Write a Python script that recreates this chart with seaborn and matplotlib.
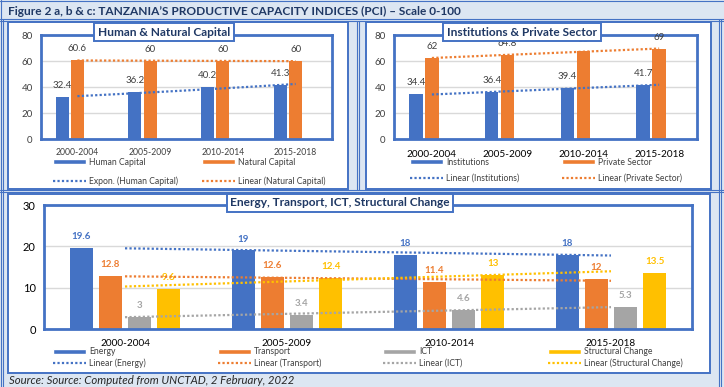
import numpy as np
import pandas as pd
import seaborn as sns
import matplotlib.pyplot as plt
from matplotlib.patches import Rectangle, Patch
from matplotlib.lines import Line2D

# data
periods = ['2000-2004', '2005-2009', '2010-2014', '2015-2018']
human = [32.4, 36.2, 40.2, 41.3]
natural = [60.6, 60, 60, 60]
institutions = [34.4, 36.4, 39.4, 41.7]
private = [62, 64.8, 68, 69]
energy = [19.6, 19, 18, 18]
transport = [12.8, 12.6, 11.4, 12]
ict = [3, 3.4, 4.6, 5.3]
structural = [9.6, 12.4, 13, 13.5]

BLUE, ORANGE, GRAY, YELLOW = '#4472c4', '#ed7d31', '#a5a5a5', '#ffc000'
FRAME = '#4472c4'
TXT = '#404040'

sns.set_style('white')
plt.rcParams['font.family'] = ['Lato', 'DejaVu Sans']

W, H = 724, 387
fig = plt.figure(figsize=(W / 100, H / 100), dpi=100)
fig.patch.set_facecolor('#dce6f2')


def fx(x):
    return x / W


def fy(y):
    return 1 - y / H


def box(l, t, r, b):
    return [l / W, 1 - b / H, (r - l) / W, (b - t) / H]


def hline(y, x0=0, x1=W):
    fig.add_artist(Line2D([fx(x0), fx(x1)], [fy(y), fy(y)], color=FRAME, lw=0.8, zorder=-1))


def vline(x, y0=0, y1=H):
    fig.add_artist(Line2D([fx(x), fx(x)], [fy(y0), fy(y1)], color=FRAME, lw=0.8, zorder=-1))


# frame of the "table"
hline(0.5)
hline(19)
hline(21)
hline(190)
hline(192)
vline(0.5)
vline(2.5, 19)
vline(357, 21, 190)
vline(359, 21, 190)
vline(719, 19)
vline(721, 19)
for l, t, r, b in [(8, 22, 348, 189), (366, 22, 711, 189), (8, 194, 710, 373)]:
    fig.add_artist(Rectangle((fx(l), fy(b)), (r - l) / W, (b - t) / H, transform=fig.transFigure,
                             facecolor='white', edgecolor=FRAME, lw=1.4, zorder=-2))

fig.text(fx(8), fy(11), 'Figure 2 a, b & c: TANZANIA\u2019S PRODUCTIVE CAPACITY INDICES (PCI) \u2013 Scale 0-100',
         fontsize=8.6, fontweight='bold', color='#1f3864', va='center', ha='left')
fig.text(fx(9), fy(381), 'Source: Source: Computed from UNCTAD, 2 February, 2022',
         fontsize=8.2, fontstyle='italic', color='#262626', va='center', ha='left')


def trend(vals, kind='linear'):
    x = np.arange(len(vals))
    xs = np.linspace(0, len(vals) - 1, 60)
    if kind == 'expon':
        k = np.polyfit(x, np.log(vals), 1)
        return xs, np.exp(np.polyval(k, xs))
    k = np.polyfit(x, vals, 1)
    return xs, np.polyval(k, xs)


def style_axis(ax, ymax, step, xsize, xcolor, xpad):
    ax.set_ylim(0, ymax)
    ax.set_xlim(-0.5, 3.5)
    ax.set_yticks(np.arange(0, ymax + 1, step))
    ax.yaxis.grid(True, color='#d9d9d9', lw=1)
    ax.set_axisbelow(True)
    for s in ax.spines.values():
        s.set_visible(True)
        s.set_color(FRAME)
        s.set_linewidth(2)
    ax.tick_params(axis='y', length=0, pad=6, labelsize=7, labelcolor=TXT)
    ax.tick_params(axis='x', length=0, pad=xpad, labelsize=xsize, labelcolor=xcolor)
    ax.set_xlabel('')
    ax.set_ylabel('')


def panel_title(text, x, y, size):
    fig.text(fx(x), fy(y), text, fontsize=size, fontweight='bold', color='#1f3864',
             ha='center', va='center', zorder=10,
             bbox=dict(boxstyle='square,pad=0.3', fc='white', ec=FRAME, lw=1.4))


def leg(handle, label, x, y, size=6.2):
    px = size * 100 / 72
    fig.legend([handle], [label], loc='center left', bbox_to_anchor=(fx(x), fy(y)),
               frameon=False, borderpad=0, borderaxespad=0, handlelength=33 / px,
               handleheight=0.55, handletextpad=0.35, fontsize=size, labelcolor=TXT)


dots = dict(ls=(0, (1, 1)), lw=1.6, dash_capstyle='butt', zorder=3)


def two_series(ax, a_vals, b_vals, a_name, b_name):
    df = pd.DataFrame({'period': periods * 2,
                       'series': [a_name] * 4 + [b_name] * 4,
                       'value': a_vals + b_vals})
    sns.barplot(df, x='period', y='value', hue='series', hue_order=[a_name, b_name, 'pad'],
                palette={a_name: BLUE, b_name: ORANGE, 'pad': 'white'}, width=0.63, gap=0.15,
                saturation=1, errorbar=None, legend=False, linewidth=0, ax=ax)
    for c in ax.containers:
        ax.bar_label(c, padding=5, fontsize=7, color=TXT)


# ---- panel a
ax1 = fig.add_axes(box(41, 35, 332, 139))
two_series(ax1, human, natural, 'Human Capital', 'Natural Capital')
xs, ys = trend(human, 'expon')
ax1.plot(xs, ys, color=BLUE, **dots)
xs, ys = trend(natural)
ax1.plot(xs, ys, color=ORANGE, **dots)
style_axis(ax1, 80, 20, 6.2, TXT, 6.5)
panel_title('Human & Natural Capital', 164, 32, 8.6)
leg(Patch(fc=BLUE), 'Human Capital', 53, 162)
leg(Line2D([], [], color=BLUE, ls=(0, (1, 1)), lw=1.6), 'Expon. (Human Capital)', 53, 181)
leg(Patch(fc=ORANGE), 'Natural Capital', 202, 162)
leg(Line2D([], [], color=ORANGE, ls=(0, (1, 1)), lw=1.6), 'Linear (Natural Capital)', 202, 181)

# ---- panel b
ax2 = fig.add_axes(box(394, 35, 697, 139))
two_series(ax2, institutions, private, 'Institutions', 'Private Sector')
xs, ys = trend(institutions)
ax2.plot(xs, ys, color=BLUE, **dots)
xs, ys = trend(private)
ax2.plot(xs, ys, color=ORANGE, **dots)
style_axis(ax2, 80, 20, 7.2, 'black', 8)
panel_title('Institutions & Private Sector', 522, 32, 8.6)
leg(Patch(fc=BLUE), 'Institutions', 410, 162)
leg(Line2D([], [], color=BLUE, ls=(0, (1, 1)), lw=1.6), 'Linear (Institutions)', 410, 178)
leg(Patch(fc=ORANGE), 'Private Sector', 562, 162)
leg(Line2D([], [], color=ORANGE, ls=(0, (1, 1)), lw=1.6), 'Linear (Private Sector)', 562, 178)

# ---- panel c
ax3 = fig.add_axes(box(44, 205, 692, 329))
names = ['Energy', 'Transport', 'ICT', 'Structural Change']
colors = [BLUE, ORANGE, GRAY, YELLOW]
df_c = pd.DataFrame({'period': periods * 4,
                     'series': sum([[n] * 4 for n in names], []),
                     'value': energy + transport + ict + structural})
sns.barplot(df_c, x='period', y='value', hue='series', hue_order=names,
            palette=dict(zip(names, colors)), width=0.72, gap=0.22, saturation=1,
            errorbar=None, legend=False, linewidth=0, ax=ax3)
for c, col in zip(ax3.containers, colors):
    ax3.bar_label(c, padding=5, fontsize=7, color=col, fontweight='bold')
for vals, col in zip([energy, transport, ict, structural], colors):
    xs, ys = trend(vals)
    ax3.plot(xs, ys, color=col, **dots)
style_axis(ax3, 30, 10, 7.2, 'black', 7)
ax3.tick_params(axis='y', labelsize=8, labelcolor='black')
panel_title('Energy, Transport, ICT, Structural Change', 340, 203, 8.6)
for (n, col), x in zip(zip(names, colors), [53, 218, 383, 548]):
    leg(Patch(fc=col), n, x, 352)
    leg(Line2D([], [], color=col, ls=(0, (1, 1)), lw=1.6), f'Linear ({n})', x, 363)

fig.savefig('out.png', dpi=100, facecolor=fig.get_facecolor())
